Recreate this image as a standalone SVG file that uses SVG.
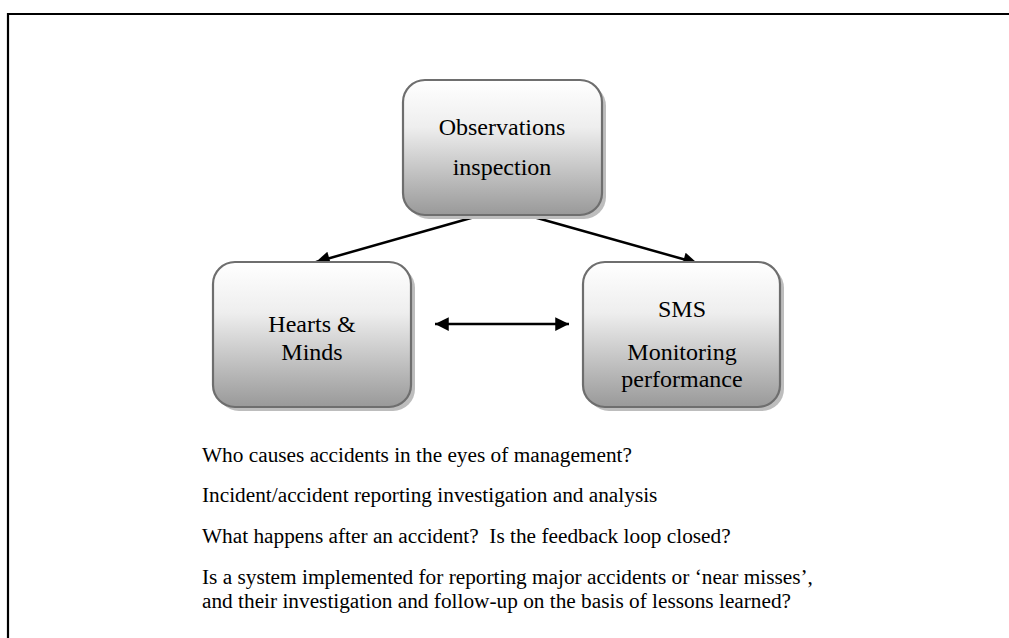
<svg xmlns="http://www.w3.org/2000/svg" width="1009" height="638" viewBox="0 0 1009 638">
<style>
.box{fill:url(#g);stroke:#6e6e6e;stroke-width:2.2}
.sh{fill:#bdbdbd}
.t{font-family:"Liberation Serif","Times New Roman",serif;font-size:24px;fill:#000;text-anchor:middle}
.b{font-family:"Liberation Serif","Times New Roman",serif;font-size:21.3px;fill:#000;white-space:pre}
.c{stroke:#000;stroke-width:2.5;fill:none}
</style>
<defs>
<linearGradient id="g" x1="0" y1="0" x2="0" y2="1">
<stop offset="0" stop-color="#ffffff"/>
<stop offset="0.35" stop-color="#eeeeee"/>
<stop offset="1" stop-color="#999999"/>
</linearGradient>
<marker id="ah" viewBox="0 0 10 10" refX="10" refY="5" markerWidth="6.5" markerHeight="5.5" orient="auto-start-reverse" markerUnits="strokeWidth">
<path d="M0,0 L10,5 L0,10 z" fill="#000"/>
</marker>
</defs>
<rect width="1009" height="638" fill="#fff"/>
<g id="frame" stroke="#000" stroke-width="2.2" fill="none">
<path d="M8,638 V14 H1009"/>
</g>
<g id="connectors">
<line class="c" x1="478" y1="216" x2="316" y2="262" marker-end="url(#ah)"/>
<line class="c" x1="530" y1="216" x2="697" y2="263" marker-end="url(#ah)"/>
<line class="c" x1="435" y1="324" x2="569" y2="324" marker-start="url(#ah)" marker-end="url(#ah)"/>
</g>
<g id="node-observations">
<rect class="sh" x="407" y="84" width="199" height="135" rx="22"/>
<rect class="box" x="403" y="80" width="199" height="135" rx="22"/>
<text class="t" x="502" y="135">Observations</text>
<text class="t" x="502" y="175">inspection</text>
</g>
<g id="node-hearts">
<rect class="sh" x="217" y="266" width="198" height="145" rx="22"/>
<rect class="box" x="213" y="262" width="198" height="145" rx="22"/>
<text class="t" x="312" y="332">Hearts &amp;</text>
<text class="t" x="312" y="360">Minds</text>
</g>
<g id="node-sms">
<rect class="sh" x="587" y="266" width="197" height="145" rx="22"/>
<rect class="box" x="583" y="262" width="197" height="145" rx="22"/>
<text class="t" x="682" y="317">SMS</text>
<text class="t" x="682" y="360">Monitoring</text>
<text class="t" x="682" y="387">performance</text>
</g>
<g id="notes">
<text class="b" x="202" y="462">Who causes accidents in the eyes of management?</text>
<text class="b" x="202" y="502">Incident/accident reporting investigation and analysis</text>
<text class="b" x="202" y="543" xml:space="preserve">What happens after an accident?  Is the feedback loop closed?</text>
<text class="b" x="202" y="584">Is a system implemented for reporting major accidents or ‘near misses’,</text>
<text class="b" x="202" y="608">and their investigation and follow-up on the basis of lessons learned?</text>
</g>
</svg>
